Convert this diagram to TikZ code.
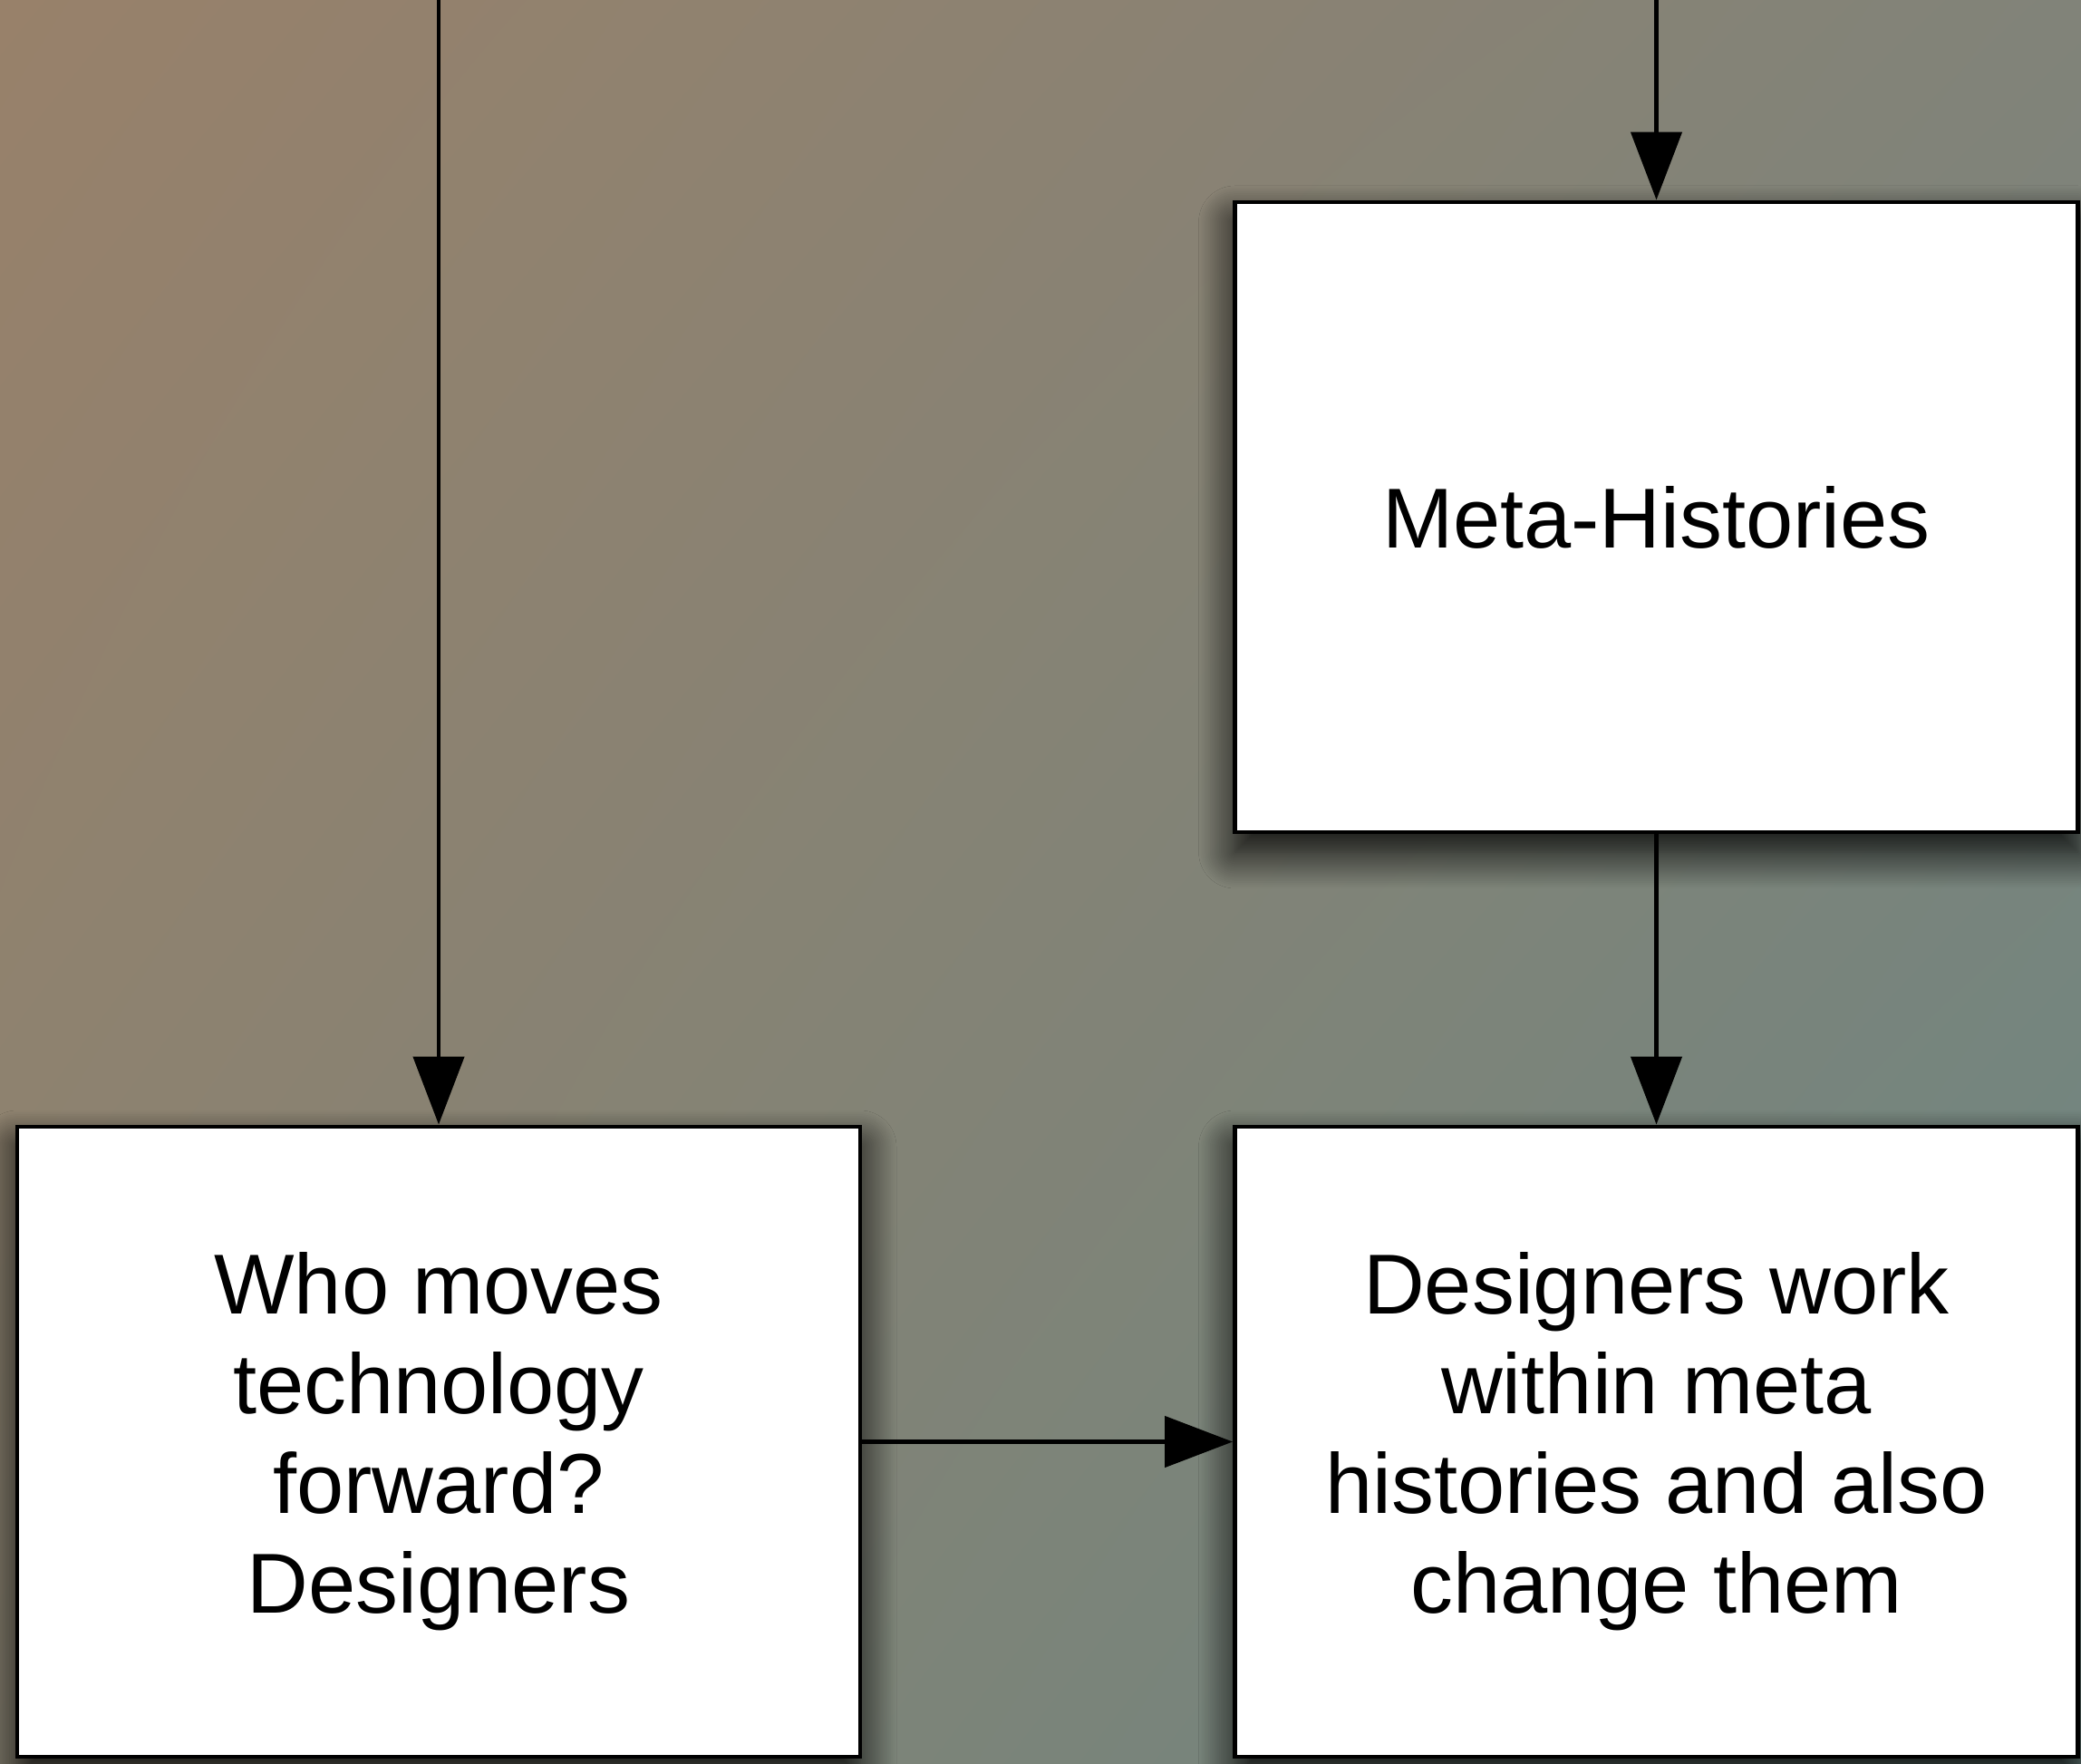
\documentclass[tikz,border=0pt]{standalone}
\usepackage{fontspec}
\setmainfont{Liberation Sans}
\usepackage{tikz}
\usetikzlibrary{arrows.meta,shadows.blur,shadings}
\definecolor{bgul}{RGB}{152,129,106}
\definecolor{bgur}{RGB}{129,131,121}
\definecolor{bgll}{RGB}{136,130,114}
\definecolor{bglr}{RGB}{108,134,130}
\tikzstyle{box} = [rectangle, draw, fill=white, line width=1.4pt,
    minimum width=9.3cm, minimum height=6.95cm, inner sep=0pt, align=center,
    font=\fontsize{26.7}{31.3}\selectfont,
    blur shadow={shadow xshift=0pt, shadow yshift=-0.22cm,
      shadow blur radius=0.4cm, shadow blur steps=20, shadow opacity=95}]

\begin{document}
\begin{tikzpicture}[node distance=10.2cm, line width=1.3pt,
    >={Triangle[length=7.5mm,width=5.6mm]}]
  \useasboundingbox (0,0) rectangle (22.96,19.45);
  \shade[upper left=bgul, upper right=bgur, lower left=bgll, lower right=bglr]
    (0,0) rectangle (22.96,19.45);

  \node[box] (meta) at (18.275,13.745) {Meta-Histories};
  \node[box] (work) [below of=meta] {Designers work\\within meta\\histories and also\\change them};
  \node[box] (who) [left of=work,xshift=-3.235cm] {Who moves\\technology\\forward?\\Designers};

  \coordinate (whoin) at (who.north |- 0,20);
  \coordinate (metain) at (meta.north |- 0,20);

  \path[->] (whoin) edge (who.north);
  \path[->] (metain) edge (meta.north);
  \path[->] (meta) edge (work);
  \path[->] (who) edge (work);
\end{tikzpicture}
\end{document}
